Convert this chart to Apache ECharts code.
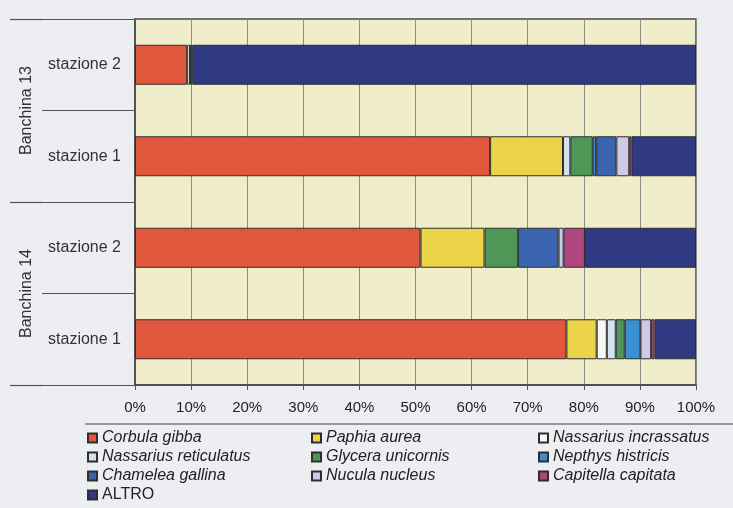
<!DOCTYPE html>
<html>
<head>
<meta charset="utf-8">
<script src="https://cdn.jsdelivr.net/npm/echarts@6/dist/echarts.min.js"></script>
<style>
  html, body { margin: 0; padding: 0; background: #eceef1; }
  #chart { width: 733px; height: 508px; }
</style>
</head>
<body>
<div id="chart"></div>
<script>
// Stations, listed top to bottom (group|station)
const stations = ['B13|stazione 2', 'B13|stazione 1', 'B14|stazione 2', 'B14|stazione 1'];
const groups = ['Banchina 13', 'Banchina 14'];
const xTicks = [0, 10, 20, 30, 40, 50, 60, 70, 80, 90, 100];

// Percentage composition per taxon, one value per station (same order as stations)
const corbulaGibba        = [9.3, 63.3, 50.9, 76.9];
const paphiaAurea         = [0, 13.0, 11.4, 5.4];
const nassariusIncrassatus = [0.5, 0, 0, 1.8];
const nassariusReticulatus = [0, 1.3, 0, 1.6];
const glyceraUnicornis    = [0.4, 4.0, 6.0, 1.6];
const nepthysHistricis    = [0, 0.6, 0, 2.8];
const chameleaGallina     = [0, 3.6, 7.2, 0];
const nuculaNucleus       = [0, 2.3, 0.9, 1.9];
const capitellaCapitata   = [0, 0.4, 3.8, 0.6];
const altro               = [89.8, 11.5, 19.8, 7.4];

const taxa = [
  { name: 'Corbula gibba',         data: corbulaGibba,         color: '#e0573e' },
  { name: 'Paphia aurea',          data: paphiaAurea,          color: '#ecd448' },
  { name: 'Nassarius incrassatus', data: nassariusIncrassatus, color: '#f8f8f6' },
  { name: 'Nassarius reticulatus', data: nassariusReticulatus, color: '#d5e1ee' },
  { name: 'Glycera unicornis',     data: glyceraUnicornis,     color: '#4e9757' },
  { name: 'Nepthys histricis',     data: nepthysHistricis,     color: '#3a8fd0' },
  { name: 'Chamelea gallina',      data: chameleaGallina,      color: '#3b64b0' },
  { name: 'Nucula nucleus',        data: nuculaNucleus,        color: '#cbcbe6' },
  { name: 'Capitella capitata',    data: capitellaCapitata,    color: '#b0457f' },
  { name: 'ALTRO',                 data: altro,                color: '#2f3a82' }
];

const legendColumns = [
  ['Corbula gibba', 'Nassarius reticulatus', 'Chamelea gallina', 'ALTRO'],
  ['Paphia aurea', 'Glycera unicornis', 'Nucula nucleus'],
  ['Nassarius incrassatus', 'Nepthys histricis', 'Capitella capitata']
];
const legendLefts = [87, 311, 538];

const font = 'Liberation Sans, Arial, sans-serif';

const chart = echarts.init(document.getElementById('chart'), null, { renderer: 'canvas' });

const series = taxa.map(t => ({
  name: t.name,
  type: 'bar',
  stack: 'total',
  barWidth: 40,
  yAxisIndex: 0,
  itemStyle: { color: t.color, borderColor: '#2e2e2e', borderWidth: 1 },
  emphasis: { disabled: true },
  data: t.data.map(v => (v ? v : '-'))
}));

const legends = legendColumns.map((col, i) => ({
  orient: 'vertical',
  left: legendLefts[i],
  top: 430,
  height: 78,
  padding: 0,
  itemWidth: 9,
  itemHeight: 9,
  itemGap: 3,
  icon: 'rect',
  selectedMode: false,
  textStyle: { fontFamily: font, fontSize: 16, fontStyle: 'italic', color: '#222', lineHeight: 16 },
  data: col.map(n => n === 'ALTRO'
    ? { name: n, textStyle: { fontStyle: 'normal' } }
    : { name: n })
}));

chart.setOption({
  animation: false,
  backgroundColor: '#eceef1',
  grid: {
    left: 135, right: 37, top: 19, bottom: 123,
    show: true, backgroundColor: '#f0edcb', borderColor: '#4a4a4a', borderWidth: 1.5
  },
  xAxis: {
    type: 'value',
    min: xTicks[0],
    max: xTicks[xTicks.length - 1],
    interval: xTicks[1] - xTicks[0],
    axisLine: { show: true, lineStyle: { color: '#444', width: 1.5 } },
    axisTick: { show: true, length: 5, lineStyle: { color: '#555' } },
    axisLabel: { formatter: '{value}%', fontFamily: font, fontSize: 15, color: '#222', margin: 15 },
    splitLine: { show: true, lineStyle: { color: '#8c8c82', width: 1 } }
  },
  yAxis: [
    {
      type: 'category',
      inverse: true,
      data: stations,
      axisLine: { show: true, lineStyle: { color: '#444', width: 1.5 } },
      axisTick: { show: true, length: 93, lineStyle: { color: '#555', width: 1.2 } },
      axisLabel: {
        formatter: v => v.split('|')[1],
        fontFamily: font, fontSize: 16, color: '#333', margin: 14
      },
      splitLine: { show: false }
    },
    {
      type: 'category',
      inverse: true,
      position: 'left',
      offset: 93,
      data: groups,
      axisLine: { show: false },
      axisTick: { show: true, length: 32, lineStyle: { color: '#555', width: 1.2 } },
      axisLabel: { rotate: 90, fontFamily: font, fontSize: 16, color: '#333', margin: 7 },
      splitLine: { show: false }
    }
  ],
  legend: legends,
  graphic: [{
    type: 'line',
    shape: { x1: 85, y1: 424, x2: 733, y2: 424 },
    style: { stroke: '#7a7a7a', lineWidth: 1.5 },
    silent: true
  }],
  series: series
});
</script>
</body>
</html>
